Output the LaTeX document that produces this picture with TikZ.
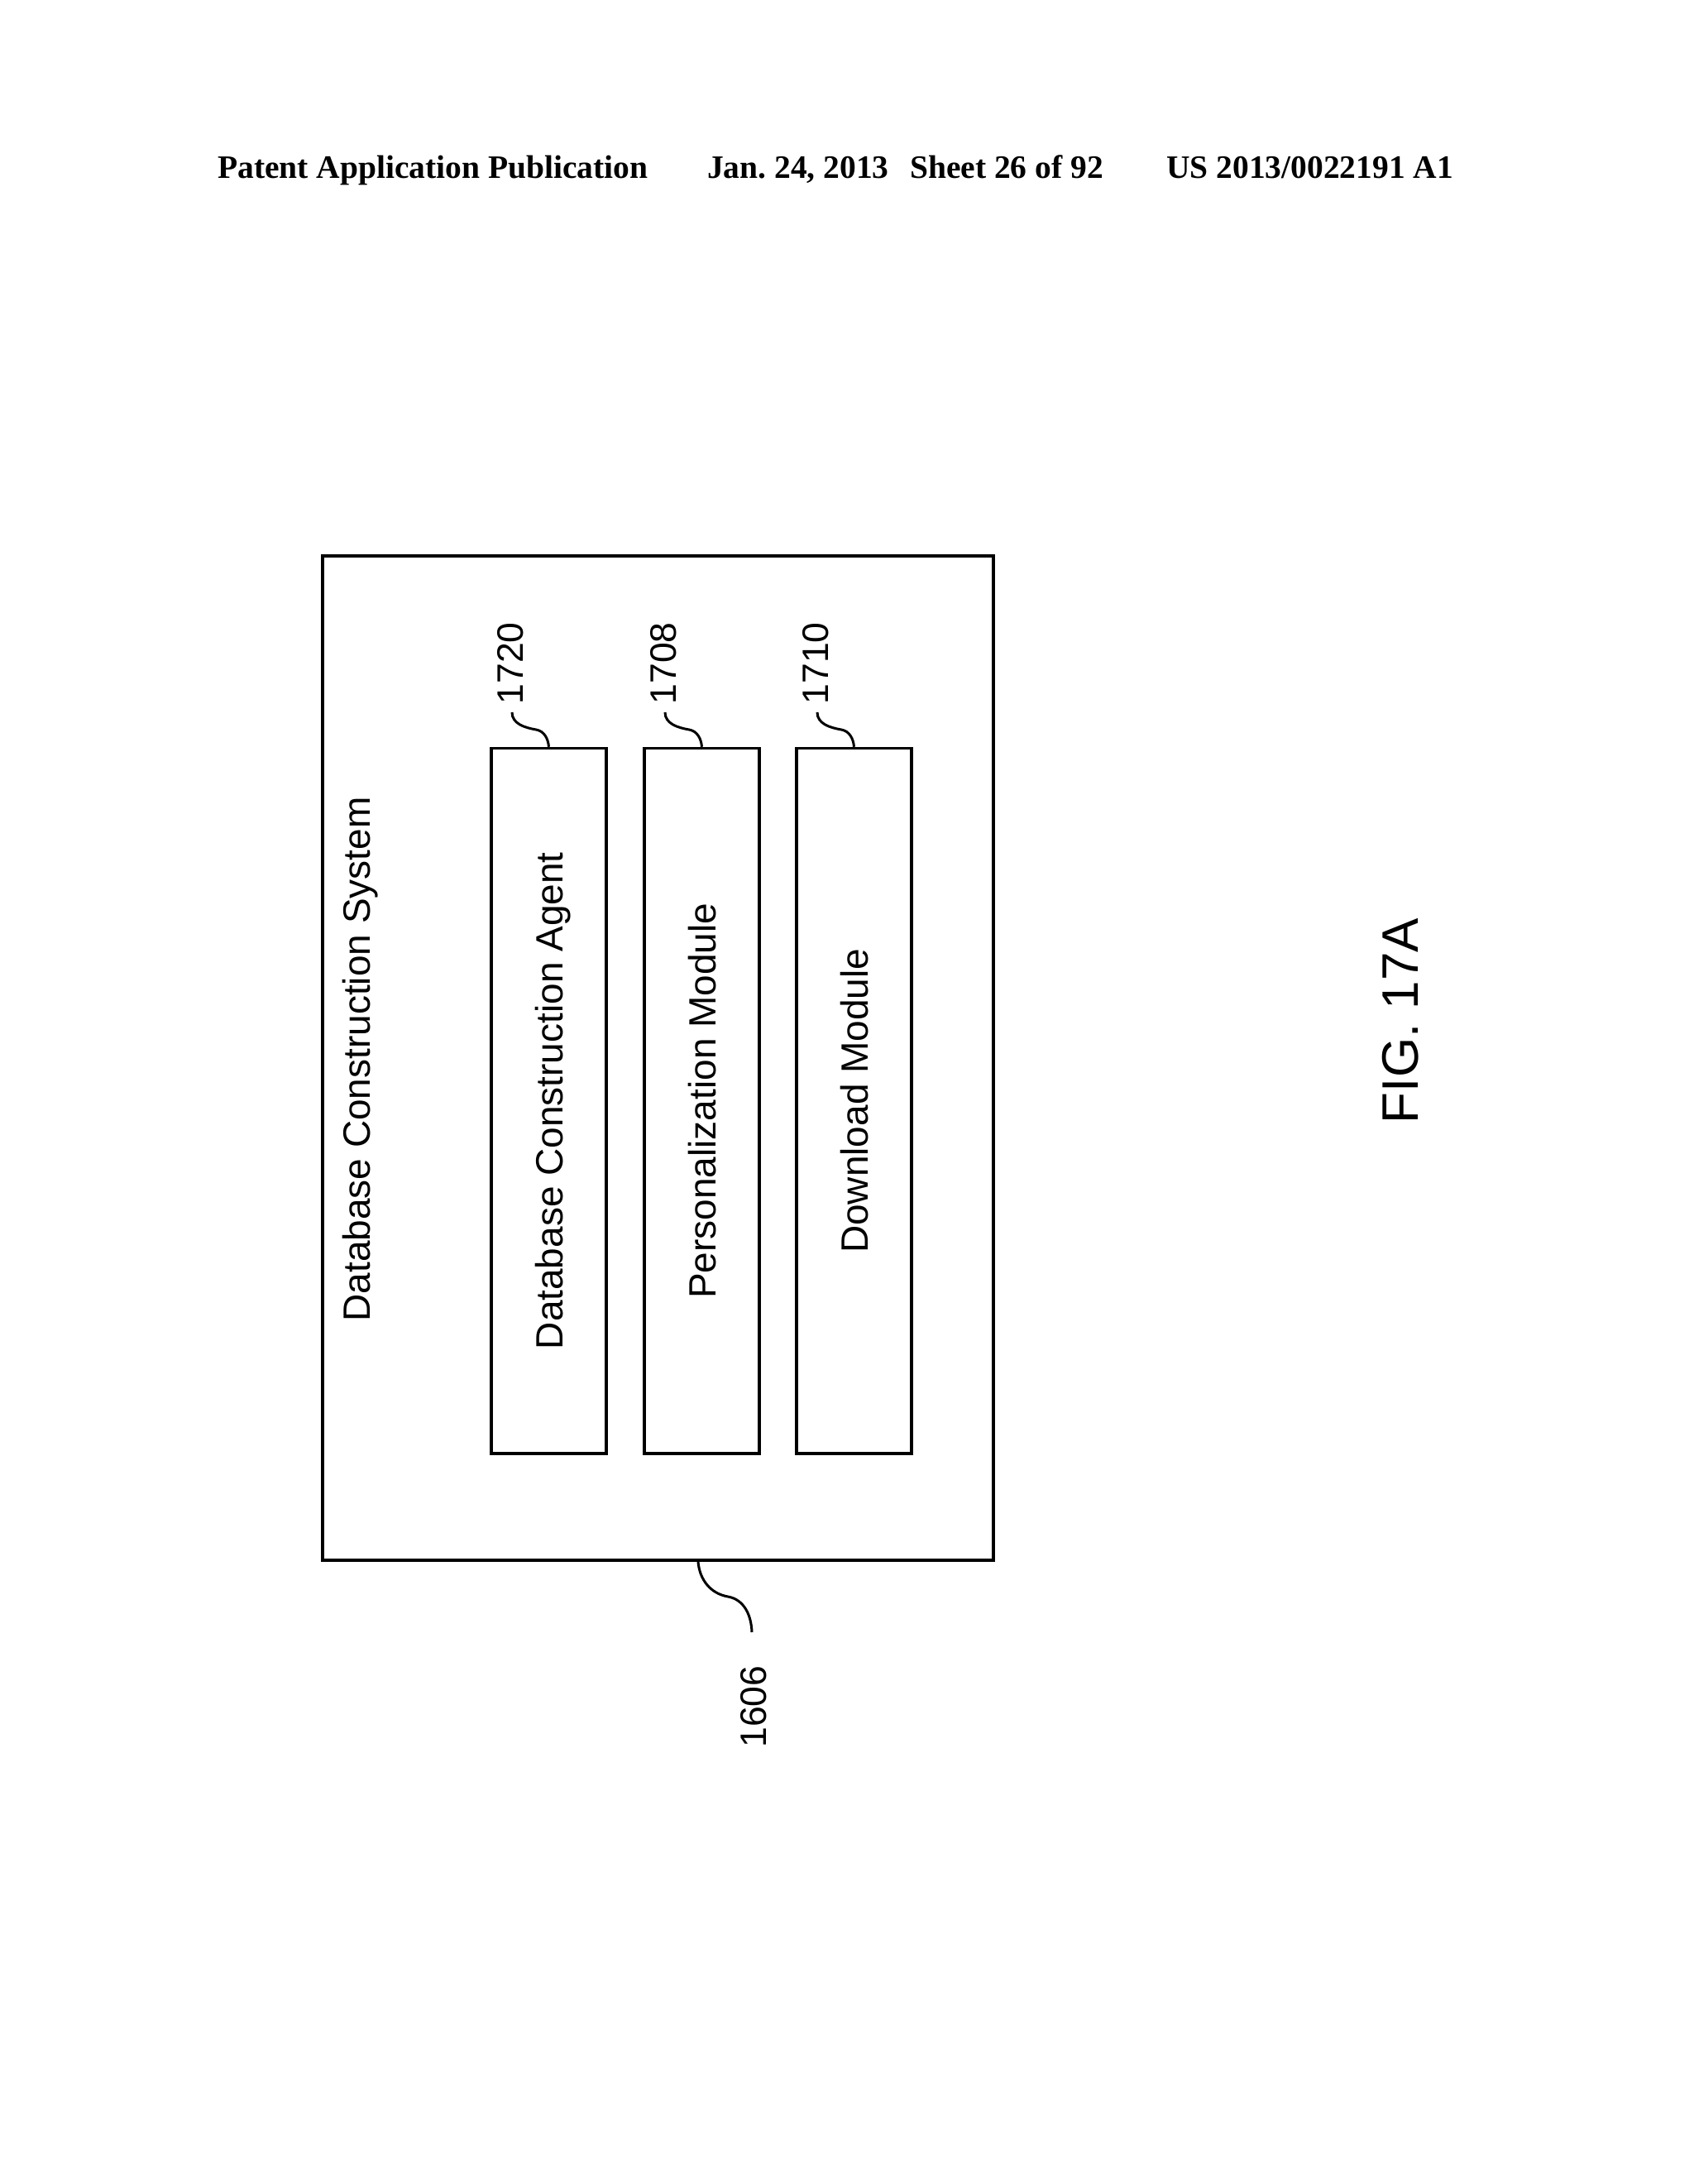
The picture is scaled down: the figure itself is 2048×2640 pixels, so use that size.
\documentclass[tikz,border=0pt]{standalone}
\usepackage{fontspec}
\setmainfont{Liberation Sans}
\newfontfamily\headfont{Liberation Serif}
\frenchspacing
\tikzset{
  x=1pt,y=1pt,
  outerbox/.style={draw=black,line width=4pt,minimum width=811pt,minimum height=1214pt,inner sep=0pt},
  modbox/.style={draw=black,line width=3.4pt,rotate=90,minimum width=852.5pt,minimum height=139pt,inner sep=0pt,
    font=\fontsize{46}{54}\selectfont,text height=33pt,text depth=0pt},
  lead/.style={draw=black,line width=3pt},
  vtext/.style={rotate=90,anchor=base,inner sep=0pt,font=\fontsize{46}{54}\selectfont},
  reftext/.style={rotate=90,anchor=base,inner sep=0pt,font=\fontsize{44.5}{54}\selectfont},
  figtext/.style={rotate=90,anchor=base,inner sep=0pt,font=\fontsize{62}{72}\selectfont},
  headtext/.style={anchor=base west,inner sep=0pt,font=\headfont\bfseries\fontsize{39.5}{46}\selectfont},
}
\begin{document}
\begin{tikzpicture}
\fill[white] (0,0) rectangle (2048,2640);
\useasboundingbox (0,0) rectangle (2048,2640);
\node[headtext] (h1) at (263,2424.5) {Patent Application Publication};
\node[headtext] (h2) at (855,2424.5) {Jan. 24, 2013};
\node[headtext] (h3) at (1100,2424.5) {Sheet 26 of 92};
\node[headtext] (h4) at (1410,2424.5) {US 2013/0022191 A1};
\node[outerbox] (outer) at (795.5,1361) {};
\node[vtext] (title) at (447,1359.5) {Database Construction System};
\node[modbox] (b1720) at (663.5,1309.25) {Database Construction Agent};
\node[modbox] (b1708) at (848.5,1309.25) {Personalization Module};
\node[modbox] (b1710) at (1032.5,1309.25) {Download Module};
\node[reftext] (r1720) at (632,1838) {1720};
\node[reftext] (r1708) at (817,1838) {1708};
\node[reftext] (r1710) at (1001,1838) {1710};
\node[reftext] (r1606) at (926,577) {1606};
\node[figtext] (fig) at (1714,1406) {FIG. 17A};
\coordinate (m1720) at (648,1758); \coordinate (e1720) at (619,1779);
\coordinate (m1708) at (833,1758); \coordinate (e1708) at (804,1779);
\coordinate (m1710) at (1017,1758); \coordinate (e1710) at (988,1779);
\coordinate (m1606) at (880,710); \coordinate (e1606) at (909,667);
\draw[lead] (b1720.east) to[out=95,in=-10] (m1720) to[out=170,in=-90] (e1720);
\draw[lead] (b1708.east) to[out=95,in=-10] (m1708) to[out=170,in=-90] (e1708);
\draw[lead] (b1710.east) to[out=95,in=-10] (m1710) to[out=170,in=-90] (e1710);
\draw[lead] ([xshift=48.5pt]outer.south) to[out=-85,in=170] (m1606) to[out=-10,in=92] (e1606);
\end{tikzpicture}
\end{document}
